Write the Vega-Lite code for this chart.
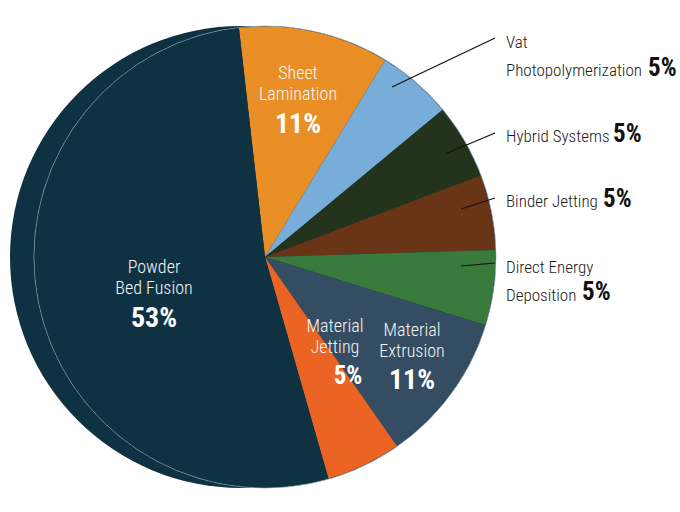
{
  "$schema": "https://vega.github.io/schema/vega-lite/v6.json",
  "width": 680,
  "height": 512,
  "padding": 0,
  "autosize": {"type": "none"},
  "background": "white",
  "config": {"view": {"stroke": null}},
  "datasets": {
    "slices": [
      {"method": "Sheet Lamination", "count": 2, "ord": 1},
      {"method": "Vat Photopolymerization", "count": 1, "ord": 2},
      {"method": "Hybrid Systems", "count": 1, "ord": 3},
      {"method": "Binder Jetting", "count": 1, "ord": 4},
      {"method": "Direct Energy Deposition", "count": 1, "ord": 5},
      {"method": "Material Extrusion", "count": 2, "ord": 6},
      {"method": "Material Jetting", "count": 1, "ord": 7},
      {"method": "Powder Bed Fusion", "count": 10, "ord": 8}
    ],
    "namesIn": [
      {"method": "Sheet Lamination", "text": "Sheet\nLamination", "x": 0.1429, "y": 0.7706},
      {"method": "Powder Bed Fusion", "text": "Powder\nBed Fusion", "x": -0.4805, "y": -0.0693},
      {"method": "Material Extrusion", "text": "Material\nExtrusion", "x": 0.6364, "y": -0.342},
      {"method": "Material Jetting", "text": "Material\nJetting", "x": 0.303, "y": -0.3247}
    ],
    "pctsIn": [
      {"method": "Sheet Lamination", "text": "11%", "x": 0.1429, "y": 0.5368},
      {"method": "Powder Bed Fusion", "text": "53%", "x": -0.4805, "y": -0.303},
      {"method": "Material Extrusion", "text": "11%", "x": 0.6364, "y": -0.5714},
      {"method": "Material Jetting", "text": "5%", "x": 0.3593, "y": -0.5498}
    ],
    "namesOut": [
      {"method": "Vat Photopolymerization", "text": "Vat\nPhotopolymerization", "x": 1.0433, "y": 0.9048},
      {"method": "Hybrid Systems", "text": "Hybrid Systems", "x": 1.0433, "y": 0.4978},
      {"method": "Binder Jetting", "text": "Binder Jetting", "x": 1.0433, "y": 0.2165},
      {"method": "Direct Energy Deposition", "text": "Direct Energy\nDeposition", "x": 1.0433, "y": -0.0693}
    ],
    "pctsOut": [
      {"method": "Vat Photopolymerization", "text": "5%", "x": 1.658, "y": 0.7835},
      {"method": "Hybrid Systems", "text": "5%", "x": 1.5065, "y": 0.4978},
      {"method": "Binder Jetting", "text": "5%", "x": 1.4632, "y": 0.2165},
      {"method": "Direct Energy Deposition", "text": "5%", "x": 1.3723, "y": -0.1861}
    ],
    "leaders": [
      {"method": "Vat Photopolymerization", "x": 0.5498, "y": 0.7359, "x2": 0.9957, "y2": 0.9481},
      {"method": "Hybrid Systems", "x": 0.7792, "y": 0.4459, "x2": 0.9957, "y2": 0.5368},
      {"method": "Binder Jetting", "x": 0.8485, "y": 0.2078, "x2": 0.9957, "y2": 0.2554},
      {"method": "Direct Energy Deposition", "x": 0.8485, "y": -0.039, "x2": 0.9957, "y2": -0.026}
    ],
    "disk": [{"part": "disk"}]
  },
  "layer": [
    {
      "data": {"name": "disk"},
      "mark": {"type": "arc", "theta": 0, "theta2": 6.2832, "outerRadius": 231, "fill": "#0F3242"},
      "encoding": {
        "x": {"datum": -0.104, "type": "quantitative", "scale": {"domain": [-1.1472, 1.7965], "nice": false, "zero": false}, "axis": null},
        "y": {"datum": 0, "type": "quantitative", "scale": {"domain": [-1.1039, 1.1126], "nice": false, "zero": false}, "axis": null}
      }
    },
    {
      "data": {"name": "disk"},
      "mark": {"type": "arc", "theta": 0, "theta2": 6.2832, "outerRadius": 231, "fill": "#0F3242", "stroke": "#9DB0BB", "strokeWidth": 0.8},
      "encoding": {
        "x": {"datum": 0, "type": "quantitative"},
        "y": {"datum": 0, "type": "quantitative"}
      }
    },
    {
      "data": {"name": "slices"},
      "mark": {"type": "arc", "outerRadius": 230.4},
      "encoding": {
        "x": {"datum": 0, "type": "quantitative"},
        "y": {"datum": 0, "type": "quantitative"},
        "theta": {"field": "count", "type": "quantitative", "stack": true, "scale": {"range": [-0.1134, 6.1698]}},
        "order": {"field": "ord", "type": "quantitative"},
        "color": {
          "field": "method",
          "type": "nominal",
          "legend": null,
          "scale": {
            "domain": ["Sheet Lamination", "Vat Photopolymerization", "Hybrid Systems", "Binder Jetting", "Direct Energy Deposition", "Material Extrusion", "Material Jetting", "Powder Bed Fusion"],
            "range": ["#E98F26", "#78ADDA", "#24331C", "#6A3516", "#387B3D", "#344D62", "#EB6423", "#0F3242"]
          }
        }
      }
    },
    {
      "data": {"name": "leaders"},
      "mark": {"type": "rule", "color": "#111111", "strokeWidth": 1.2},
      "encoding": {
        "x": {"field": "x", "type": "quantitative"},
        "y": {"field": "y", "type": "quantitative"},
        "x2": {"field": "x2"},
        "y2": {"field": "y2"}
      }
    },
    {
      "data": {"name": "namesIn"},
      "mark": {"type": "text", "align": "center", "baseline": "alphabetic", "lineBreak": "\n", "lineHeight": 21, "font": "Roboto Condensed, Roboto, sans-serif", "fontWeight": 300, "fontSize": 18, "color": "#F4F6F8"},
      "encoding": {
        "x": {"field": "x", "type": "quantitative"},
        "y": {"field": "y", "type": "quantitative"},
        "text": {"field": "text"}
      }
    },
    {
      "data": {"name": "pctsIn"},
      "transform": [{"filter": "datum.method !== 'Material Jetting'"}],
      "mark": {"type": "text", "align": "center", "baseline": "alphabetic", "font": "Roboto Condensed, Roboto, sans-serif", "fontWeight": "bold", "fontSize": 28, "color": "#FFFFFF"},
      "encoding": {
        "x": {"field": "x", "type": "quantitative"},
        "y": {"field": "y", "type": "quantitative"},
        "text": {"field": "text"}
      }
    },
    {
      "data": {"name": "pctsIn"},
      "transform": [{"filter": "datum.method === 'Material Jetting'"}],
      "mark": {"type": "text", "align": "center", "baseline": "alphabetic", "font": "Roboto Condensed, Roboto, sans-serif", "fontWeight": "bold", "fontSize": 25, "color": "#FFFFFF"},
      "encoding": {
        "x": {"field": "x", "type": "quantitative"},
        "y": {"field": "y", "type": "quantitative"},
        "text": {"field": "text"}
      }
    },
    {
      "data": {"name": "namesOut"},
      "mark": {"type": "text", "align": "left", "baseline": "alphabetic", "lineBreak": "\n", "lineHeight": 28, "font": "Roboto Condensed, Roboto, sans-serif", "fontWeight": 300, "fontSize": 17, "color": "#1A1A1A"},
      "encoding": {
        "x": {"field": "x", "type": "quantitative"},
        "y": {"field": "y", "type": "quantitative"},
        "text": {"field": "text"}
      }
    },
    {
      "data": {"name": "pctsOut"},
      "mark": {"type": "text", "align": "left", "baseline": "alphabetic", "font": "Roboto Condensed, Roboto, sans-serif", "fontWeight": "bold", "fontSize": 25, "color": "#111111"},
      "encoding": {
        "x": {"field": "x", "type": "quantitative"},
        "y": {"field": "y", "type": "quantitative"},
        "text": {"field": "text"}
      }
    }
  ]
}
